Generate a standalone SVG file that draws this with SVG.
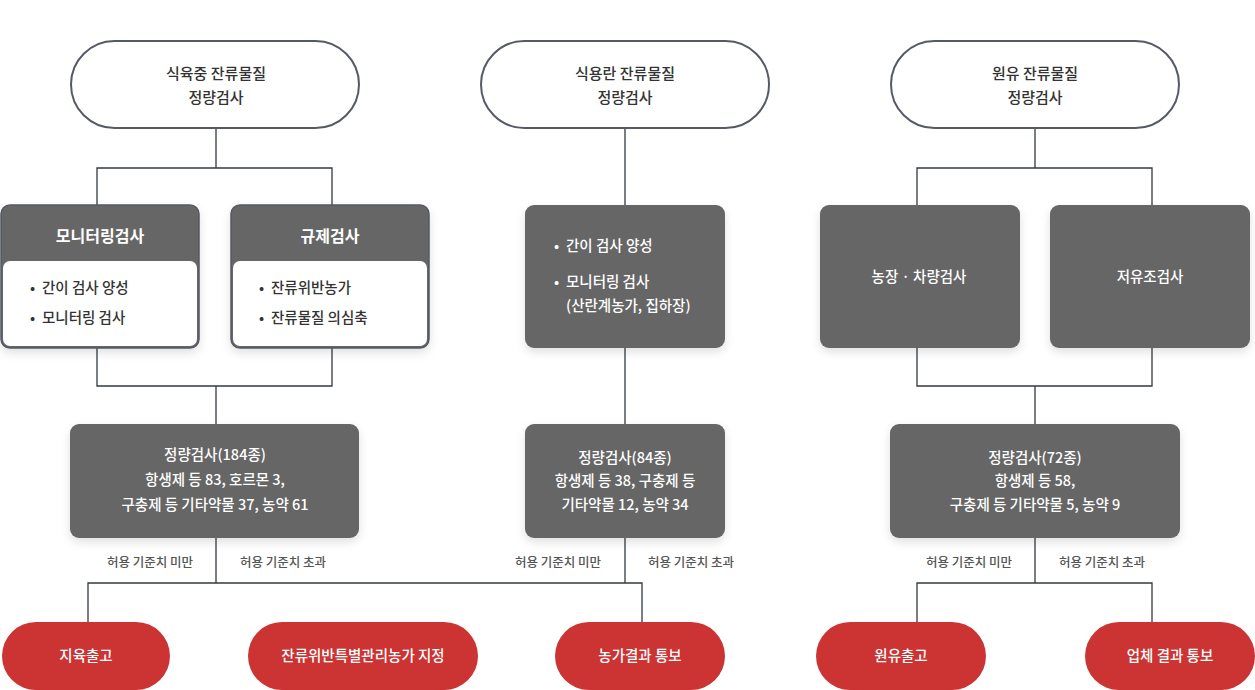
<svg xmlns="http://www.w3.org/2000/svg" width="1255" height="690" viewBox="0 0 1255 690">
<defs>
<filter id="sh" x="-20%" y="-20%" width="140%" height="150%">
<feDropShadow dx="0" dy="4" stdDeviation="5" flood-color="#000" flood-opacity="0.12"/>
</filter>
</defs>
<style>
text{font-family:"Noto Sans CJK KR","Noto Sans",sans-serif;font-weight:500}
.pill{fill:#fff;stroke:#555a66;stroke-width:2}
.pt{font-size:15px;fill:#333;text-anchor:middle}
.box{fill:#666;filter:url(#sh)}
.hd{fill:#666;stroke:#555a66;stroke-width:1.5;filter:url(#sh)}
.wp{fill:#fff}
.bt{font-size:14.5px;fill:#fff;text-anchor:middle}
.bl{font-size:14.5px;fill:#fff}
.dk{font-size:14.5px;fill:#333}
.ht{font-size:16px;font-weight:bold;fill:#fff;text-anchor:middle}
.red{fill:#cc3333}
.rt{font-size:14.5px;fill:#fff;text-anchor:middle}
.lb{font-size:12.5px;fill:#555;text-anchor:middle}
.ln{fill:none;stroke:#333a40;stroke-width:1.3}
</style>
<g id="connectors">
<path class="ln" d="M216 128V168M97 205V168H332V205"/>
<path class="ln" d="M97 348V386H332V348M216 386V424"/>
<path class="ln" d="M216 538V583M88 622V583H642V622M625 538V583"/>
<path class="ln" d="M625 128V205M625 348V424"/>
<path class="ln" d="M1035 128V168M917 205V168H1152V205"/>
<path class="ln" d="M917 348V386H1152V348M1035 386V424"/>
<path class="ln" d="M1035 538V583M917 622V583H1152V622"/>
</g>
<g id="labels">
<text class="lb" x="150" y="567">허용 기준치 미만</text>
<text class="lb" x="283" y="567">허용 기준치 초과</text>
<text class="lb" x="558" y="567">허용 기준치 미만</text>
<text class="lb" x="691" y="567">허용 기준치 초과</text>
<text class="lb" x="969" y="567">허용 기준치 미만</text>
<text class="lb" x="1102" y="567">허용 기준치 초과</text>
</g>
<g id="n-top1">
<rect class="pill" x="71" y="41" width="288" height="87" rx="43.5"/>
<text class="pt" x="216" y="79">식육중 잔류물질</text>
<text class="pt" x="216" y="103">정량검사</text>
</g>
<g id="n-top2">
<rect class="pill" x="481" y="41" width="288" height="87" rx="43.5"/>
<text class="pt" x="625" y="79">식용란 잔류물질</text>
<text class="pt" x="625" y="103">정량검사</text>
</g>
<g id="n-top3">
<rect class="pill" x="891" y="41" width="288" height="87" rx="43.5"/>
<text class="pt" x="1035" y="79">원유 잔류물질</text>
<text class="pt" x="1035" y="103">정량검사</text>
</g>
<g id="n-monitor">
<rect class="hd" x="1" y="205" width="198" height="143" rx="9"/>
<rect class="wp" x="3" y="261" width="194" height="85" rx="7"/>
<text class="ht" x="100" y="242">모니터링검사</text>
<text class="dk" y="293"><tspan x="30">•</tspan><tspan x="42">간이 검사 양성</tspan></text>
<text class="dk" y="323"><tspan x="30">•</tspan><tspan x="42">모니터링 검사</tspan></text>
</g>
<g id="n-regul">
<rect class="hd" x="231" y="205" width="198" height="143" rx="9"/>
<rect class="wp" x="233" y="261" width="194" height="85" rx="7"/>
<text class="ht" x="330" y="242">규제검사</text>
<text class="dk" y="293"><tspan x="259">•</tspan><tspan x="271">잔류위반농가</tspan></text>
<text class="dk" y="323"><tspan x="259">•</tspan><tspan x="271">잔류물질 의심축</tspan></text>
</g>
<g id="n-egg">
<rect class="box" x="525" y="205" width="200" height="143" rx="9"/>
<text class="bl" y="251"><tspan x="554">•</tspan><tspan x="566">간이 검사 양성</tspan></text>
<text class="bl" y="287"><tspan x="554">•</tspan><tspan x="566">모니터링 검사</tspan></text>
<text class="bl" x="566" y="311">(산란계농가, 집하장)</text>
</g>
<g id="n-farm">
<rect class="box" x="820" y="205" width="200" height="143" rx="9"/>
<text class="bt" x="919" y="282">농장 · 차량검사</text>
</g>
<g id="n-tank">
<rect class="box" x="1050" y="205" width="200" height="143" rx="9"/>
<text class="bt" x="1150" y="282">저유조검사</text>
</g>
<g id="n-q1">
<rect class="box" x="70" y="424" width="289" height="114" rx="9"/>
<text class="bt" x="215" y="460">정량검사(184종)</text>
<text class="bt" x="215" y="485">항생제 등 83, 호르몬 3,</text>
<text class="bt" x="215" y="510">구충제 등 기타약물 37, 농약 61</text>
</g>
<g id="n-q2">
<rect class="box" x="525" y="424" width="200" height="114" rx="9"/>
<text class="bt" x="625" y="463">정량검사(84종)</text>
<text class="bt" x="625" y="486">항생제 등 38, 구충제 등</text>
<text class="bt" x="625" y="510">기타약물 12, 농약 34</text>
</g>
<g id="n-q3">
<rect class="box" x="890" y="424" width="290" height="114" rx="9"/>
<text class="bt" x="1035" y="463">정량검사(72종)</text>
<text class="bt" x="1035" y="486">항생제 등 58,</text>
<text class="bt" x="1035" y="510">구충제 등 기타약물 5, 농약 9</text>
</g>
<g id="n-r1">
<rect class="red" x="2" y="622" width="168" height="68" rx="34"/>
<text class="rt" x="86" y="661">지육출고</text>
</g>
<g id="n-r2">
<rect class="red" x="248" y="622" width="230" height="68" rx="34"/>
<text class="rt" x="363" y="661">잔류위반특별관리농가 지정</text>
</g>
<g id="n-r3">
<rect class="red" x="555" y="622" width="170" height="68" rx="34"/>
<text class="rt" x="640" y="661">농가결과 통보</text>
</g>
<g id="n-r4">
<rect class="red" x="816" y="622" width="170" height="68" rx="34"/>
<text class="rt" x="901" y="661">원유출고</text>
</g>
<g id="n-r5">
<rect class="red" x="1085" y="622" width="170" height="68" rx="34"/>
<text class="rt" x="1170" y="661">업체 결과 통보</text>
</g>
</svg>
